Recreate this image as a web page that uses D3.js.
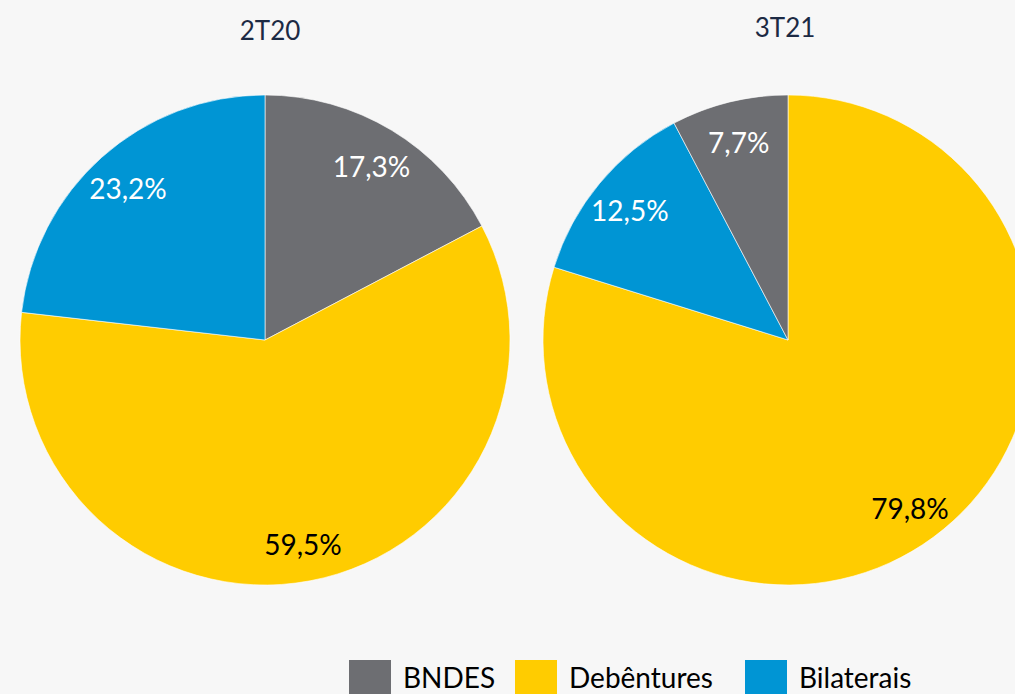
<!DOCTYPE html>
<html>
<head>
<meta charset="utf-8">
<script src="https://cdn.jsdelivr.net/npm/d3@7"></script>
<style>
  body { margin: 0; background: #f7f7f7; }
  svg { display: block; }
</style>
</head>
<body>
<div id="container"></div>
<script>
// two pies, debt composition by source

const width = 1015;
const height = 694;

const categories = ["BNDES", "Debêntures", "Bilaterais"];
const colors = ["#6d6e72", "#ffcc00", "#0095d4"];

// order of slices, clockwise from 12 o'clock, as drawn in each pie
const periods = ["2T20", "3T21"];
const values2T20 = [17.3, 59.5, 23.2];           // BNDES, Debêntures, Bilaterais
const values3T21 = [79.8, 12.5, 7.7];            // Debêntures, Bilaterais, BNDES
const order3T21 = ["Debêntures", "Bilaterais", "BNDES"];
const labelColors2T20 = ["#fff", "#000", "#fff"];
const labelColors3T21 = ["#000", "#fff", "#fff"];

const color = d3.scaleOrdinal().domain(categories).range(colors);

const svg = d3.select("#container")
    .append("svg")
    .attr("width", width)
    .attr("height", height)
    .style("background-color", "#f7f7f7");

const radius = 245;
const pies = [
    { title: periods[0], cx: 265, cy: 340, titleX: 270, titleY: 40,
      data: categories.map((c, i) => ({ cat: c, v: values2T20[i], lc: labelColors2T20[i] })) },
    { title: periods[1], cx: 788, cy: 340, titleX: 785, titleY: 37,
      data: order3T21.map((c, i) => ({ cat: c, v: values3T21[i], lc: labelColors3T21[i] })) }
];

const pie = d3.pie().sort(null).value(d => d.v);
const arc = d3.arc().innerRadius(0).outerRadius(radius);
const labelArc = d3.arc().innerRadius(radius * 0.84).outerRadius(radius * 0.84);

pies.forEach(p => {
    const g = svg.append("g").attr("transform", `translate(${p.cx},${p.cy})`);
    const arcs = pie(p.data);

    g.selectAll("path")
        .data(arcs)
        .join("path")
        .attr("d", arc)
        .attr("fill", d => color(d.data.cat))
        .attr("stroke", "#ffffff")
        .attr("stroke-width", 0.6);

    g.selectAll("text")
        .data(arcs)
        .join("text")
        .attr("transform", d => `translate(${labelArc.centroid(d)})`)
        .attr("text-anchor", "middle")
        .attr("dominant-baseline", "central")
        .attr("dy", 2)
        .style("font-family", "Lato, 'Open Sans', sans-serif")
        .style("font-size", "28px")
        .attr("fill", d => d.data.lc)
        .text(d => d.data.v.toFixed(1).replace(".", ",") + "%");

    svg.append("text")
        .attr("x", p.titleX)
        .attr("y", p.titleY)
        .attr("text-anchor", "middle")
        .style("font-family", "Lato, 'Open Sans', sans-serif")
        .style("font-size", "26px")
        .attr("fill", "#1c2a44")
        .text(p.title);
});

// legend
const legendX = [349, 515, 745];
const legend = svg.append("g");
categories.forEach((c, i) => {
    const g = legend.append("g").attr("transform", `translate(${legendX[i]},660)`);
    g.append("rect")
        .attr("width", 42)
        .attr("height", 40)
        .attr("fill", color(c));
    g.append("text")
        .attr("x", 54)
        .attr("y", 28)
        .style("font-family", "Lato, 'Open Sans', sans-serif")
        .style("font-size", "28px")
        .attr("fill", "#000")
        .text(c);
});
</script>
</body>
</html>
